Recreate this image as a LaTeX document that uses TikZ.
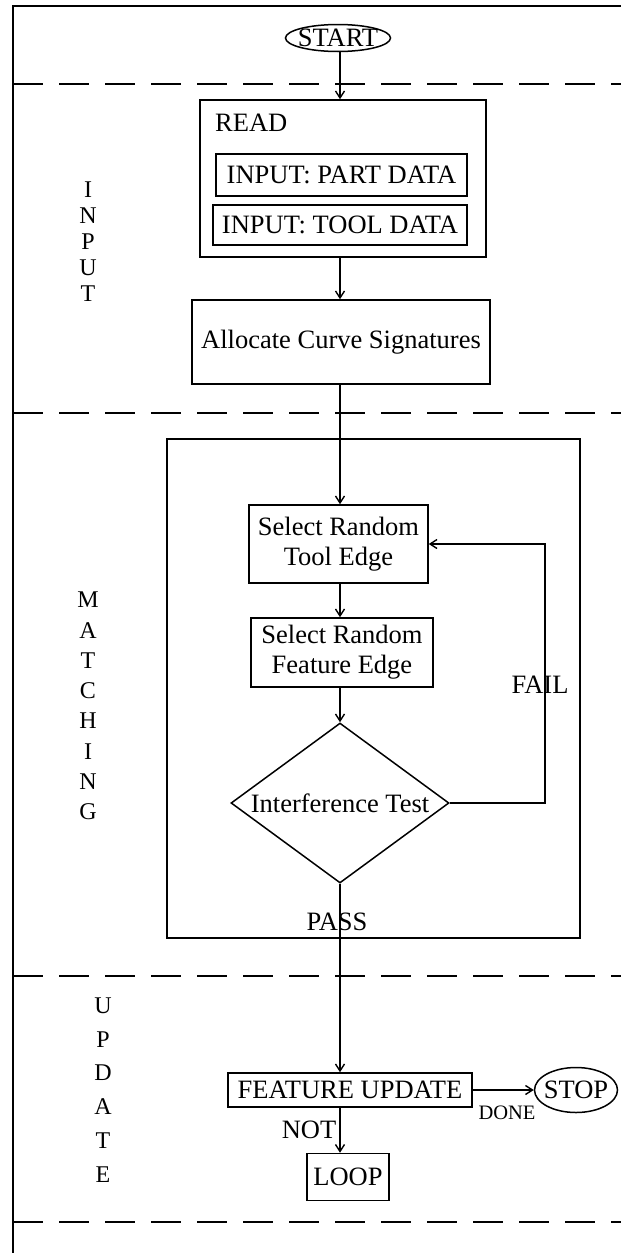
\documentclass[tikz,border=0pt]{standalone}
\usepackage{fontspec}
\setmainfont{Liberation Serif}
\usetikzlibrary{arrows.meta,shapes.geometric}

\begin{document}
\begin{tikzpicture}[x=1pt,y=-1pt,
  every node/.style={font=\fontsize{26.5}{30}\selectfont, inner sep=0pt},
  box/.style={draw, rectangle, line width=1.5pt, align=center},
  frame/.style={line width=1.8pt},
  divider/.style={line width=1.8pt, dash pattern=on 30pt off 16pt},
  arr/.style={line width=1.4pt, -{Straight Barb[length=7pt,width=9pt]}},
  oval/.style={draw, ellipse, line width=1.5pt, inner xsep=-6pt, inner ysep=-4pt},
  decision/.style={draw, diamond, line width=1.5pt, aspect=1.36, inner xsep=-4pt,
                   minimum width=218pt, minimum height=160pt},
  letters/.style={align=center, font=\fontsize{24}{#1}\selectfont},
  small/.style={font=\fontsize{20.5}{22}\selectfont}
]
\useasboundingbox (0,0) rectangle (621,1253);

% page frame and section dividers
\draw[frame] (621,6) -- (13,6) -- (13,1253);
\foreach \yy in {84,413,976,1222}
  \draw[divider] (13,\yy) -- (621,\yy);

% section titles
\node[letters=26] (secinput) at (88,242) {I\\N\\P\\U\\T};
\node[letters=30.3] (secmatch) at (88,706) {M\\A\\T\\C\\H\\I\\N\\G};
\node[letters=33.8] (secupdate) at (103,1090) {U\\P\\D\\A\\T\\E};

% main column
\coordinate (colA) at (340,0);
\coordinate (failx) at (545,0);

% input stage
\node[oval, minimum width=105pt, minimum height=27pt] (start) at (338,38) {START};
\node[box, minimum width=286pt, minimum height=157pt] (read) at (343,178.5) {};
\node[anchor=west] (readlbl) at (215,123) {READ};
\node[box, minimum width=251pt, minimum height=42pt] (part) at (341.5,175) {INPUT: PART DATA};
\node[box, minimum width=254pt, minimum height=40pt] (tool) at (340,225) {INPUT: TOOL DATA};
\node[box, minimum width=298pt, minimum height=84pt] (alloc) at (341,342) {Allocate Curve Signatures};

% matching stage
\node[box, minimum width=413pt, minimum height=499pt] (matchframe) at (373.5,688.5) {};
\node[box, minimum width=179pt, minimum height=78pt] (tooledge) at (338.5,544) {Select Random\\Tool Edge};
\node[box, minimum width=182pt, minimum height=69pt] (featedge) at (342,652.5) {Select Random\\Feature Edge};
\node[decision] (test) at (340,803) {Interference Test};

% update stage
\node[box, minimum width=244pt, minimum height=34pt] (fu) at (350,1090) {FEATURE UPDATE};
\node[oval, minimum width=83pt, minimum height=45pt] (stop) at (576,1090) {STOP};
\node[box, minimum width=82pt, minimum height=47pt] (loop) at (348,1177) {LOOP};

% connectors
\draw[arr] (start.south -| colA) -- (read.north -| colA);
\draw[arr] (read.south -| colA) -- (alloc.north -| colA);
\draw[arr] (alloc.south -| colA) -- (tooledge.north -| colA);
\draw[arr] (tooledge.south -| colA) -- (featedge.north -| colA);
\draw[arr] (featedge.south -| colA) -- (test.north);
\draw[arr] (test.east) -- (test.east -| failx) -- (tooledge.east -| failx) -- (tooledge.east);
\draw[arr] (test.south) -- (fu.north -| colA);
\draw[arr] (fu.east) -- (stop.west);
\draw[arr] (fu.south -| colA) -- (loop.north -| colA);

% branch labels
\node (fail) at (540,685) {FAIL};
\node (pass) at (337,922) {PASS};
\node[small] (done) at (507,1113) {DONE};
\node (nott) at (309,1130) {NOT};
\end{tikzpicture}
\end{document}
